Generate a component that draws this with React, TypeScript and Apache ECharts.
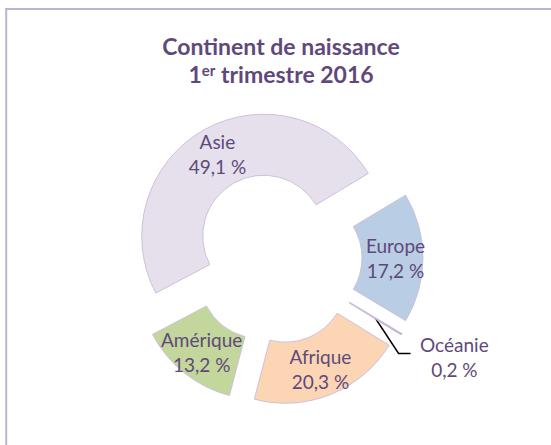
import React, { useEffect, useRef } from "react";
import * as echarts from "echarts";

const categories = ["Europe", "Océanie", "Afrique", "Amérique", "Asie"];
const values = [17.2, 0.2, 20.3, 13.2, 49.1];
const colors = ["#B9CDE5", "#B3A2C7", "#FCD5B5", "#C3D69B", "#E5E0EC"];
const titleLine1 = "Continent de naissance";
const titleLine2 = "1{s|er} trimestre 2016";

const CX = 276;
const CY = 258;
const R_IN = 61;
const R_OUT = 122;
const OFFSET = 25;
const START = 31;
const FONT = "Lato";
const TEXT_COLOR = "#5F497A";

function fmt(v: number): string {
  return String(v).replace(".", ",") + " %";
}

export default function App() {
  const ref = useRef<HTMLDivElement>(null);
  useEffect(() => {
    if (!ref.current) return;
    const chart = echarts.init(ref.current, undefined, { renderer: "svg" });
    const total = values.reduce((a, b) => a + b, 0);
    const data = categories.map((name, i) => {
      const item: any = {
        name,
        value: values[i],
        selected: true,
        itemStyle: { color: colors[i] },
      };
      if (name === "Océanie") {
        item.label = { position: "outside", show: true };
        item.labelLine = { show: true, length: 43, length2: -25 };
      }
      return item;
    });
    const labelLayout = (params: any) => {
      if (params.dataIndex !== 1) return {};
      let cum = 0;
      for (let i = 0; i < 1; i++) cum += values[i];
      const midDeg = 90 - START + ((cum + values[1] / 2) / total) * 360;
      const a = (midDeg * Math.PI) / 180;
      const dx = Math.sin(a);
      const dy = -Math.cos(a);
      const rm = (R_IN + R_OUT) / 2;
      // points relative to the (offset-shifted) slice
      const p1 = [CX + rm * dx, CY + rm * dy];
      const p2 = [p1[0] + 23, p1[1] + 35];
      const p3 = [p2[0] + 12, p2[1]];
      return {
        labelLinePoints: [p1, p2, p3],
      };
    };
    chart.setOption({
      animation: false,
      graphic: [
        {
          type: "rect",
          shape: { x: 6.2, y: 9, width: 700, height: 600 },
          style: { fill: "none", stroke: "#BFB1D5", lineWidth: 2 },
          silent: true,
        },
        {
          type: "text",
          x: 281,
          y: 46,
          style: {
            text: titleLine1,
            fill: TEXT_COLOR,
            font: `bold 23px ${FONT}`,
            align: "center",
            verticalAlign: "middle",
          },
        },
        {
          type: "text",
          x: 281,
          y: 74,
          style: {
            text: titleLine2,
            fill: TEXT_COLOR,
            fontFamily: FONT,
            fontWeight: "bold",
            fontSize: 23,
            align: "center",
            verticalAlign: "middle",
            rich: {
              s: {
                fontFamily: FONT,
                fontWeight: "bold",
                fontSize: 15,
                fill: TEXT_COLOR,
                verticalAlign: "top",
                padding: [0, 0, 9, 0],
              },
            },
          },
        },
      ],
      series: [
        {
          type: "pie",
          center: [CX, CY],
          radius: [R_IN, R_OUT],
          startAngle: START,
          clockwise: true,
          selectedMode: "multiple",
          selectedOffset: OFFSET,
          avoidLabelOverlap: false,
          emphasis: { disabled: true },
          select: { itemStyle: { borderColor: "#CCC1DA", borderWidth: 1 } },
          itemStyle: { borderColor: "#CCC1DA", borderWidth: 1 },
          label: {
            show: true,
            position: "inside",
            formatter: (p: any) =>
              p.name === "Océanie"
                ? `{c|${p.name}}\n{c|${fmt(p.value)}}`
                : `${p.name}\n${fmt(p.value)}`,
            color: TEXT_COLOR,
            fontFamily: FONT,
            fontSize: 19,
            lineHeight: 25,
            rich: {
              c: {
                width: 72,
                align: "center",
                color: TEXT_COLOR,
                fontFamily: FONT,
                fontSize: 19,
                lineHeight: 25,
              },
            },
          },
          labelLine: { show: false, lineStyle: { color: "#000", width: 1.5 } },
          labelLayout,
          data,
        },
      ],
    });
    return () => chart.dispose();
  }, []);
  return (
    <div
      ref={ref}
      style={{ position: "absolute", left: 0, top: 0, width: 551, height: 445, background: "#fff" }}
    />
  );
}
